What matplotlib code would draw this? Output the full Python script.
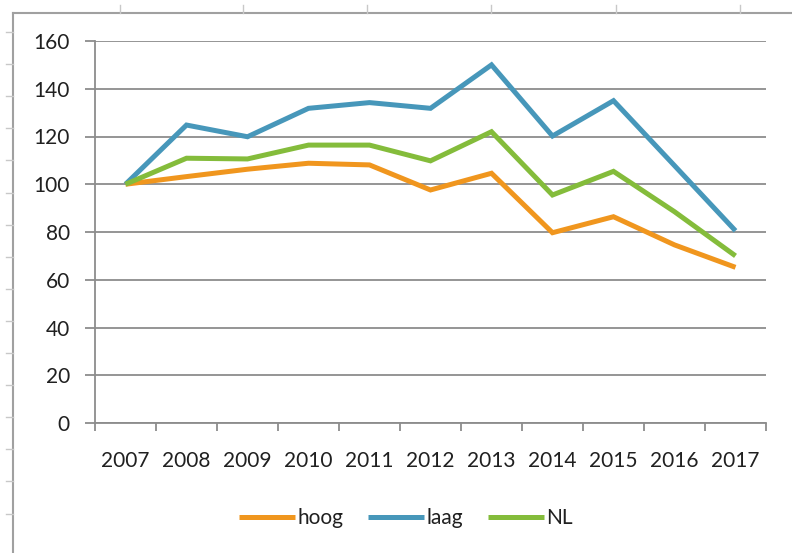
import matplotlib
matplotlib.use("Agg")
import matplotlib.pyplot as plt
from matplotlib.lines import Line2D

years = ["2007", "2008", "2009", "2010", "2011", "2012", "2013", "2014", "2015", "2016", "2017"]
hoog = [100, 103.2, 106.3, 108.8, 108.1, 97.6, 104.6, 79.7, 86.4, 74.6, 65.2]
laag = [100, 124.8, 119.9, 131.8, 134.2, 131.8, 150.0, 120.2, 135.0, 107.8, 80.5]
nl = [100, 110.9, 110.6, 116.4, 116.4, 109.8, 122.0, 95.5, 105.4, 88.5, 70.0]
yticks = [0, 20, 40, 60, 80, 100, 120, 140, 160]

c_hoog = "#F0961E"
c_laag = "#4797BA"
c_nl = "#84BC3B"
grid_c = "#8C8C8C"
txt_c = "#202020"

plt.rcParams['font.family'] = ['Lato', 'DejaVu Sans']

W, H = 792, 553
fig = plt.figure(figsize=(W / 100, H / 100), dpi=100)
fig.patch.set_facecolor("white")

def fx(px):
    return px / W

def fy(py):
    return 1 - py / H

ax = fig.add_axes([fx(95), fy(423), fx(766) - fx(95), fy(41) - fy(423)])

x = list(range(len(years)))
lw = 3.6
ax.plot(x, hoog, color=c_hoog, lw=lw, label="hoog", solid_joinstyle="miter", solid_capstyle="butt")
ax.plot(x, laag, color=c_laag, lw=lw, label="laag", solid_joinstyle="miter", solid_capstyle="butt")
ax.plot(x, nl, color=c_nl, lw=lw, label="NL", solid_joinstyle="miter", solid_capstyle="butt")

ax.set_xlim(-0.5, len(years) - 0.5)
ax.set_ylim(0, 160)
ax.set_yticks(yticks)
ax.set_yticklabels([str(v) for v in yticks])
ax.yaxis.grid(True, color=grid_c, lw=1.3)
ax.set_axisbelow(True)

fs = 15
ax.set_xticks(x)
ax.set_xticklabels(years)
ax.set_xticks([i - 0.5 for i in range(len(years) + 1)], minor=True)
ax.tick_params(axis="x", which="major", length=0, pad=20, labelsize=fs, labelcolor=txt_c)
ax.tick_params(axis="x", which="minor", length=6, width=1.3, color=grid_c, direction="out")
ax.tick_params(axis="y", length=7, width=1.3, color=grid_c, pad=11, labelsize=fs, labelcolor=txt_c)

for s in ["top", "right"]:
    ax.spines[s].set_visible(False)
for s in ["left", "bottom"]:
    ax.spines[s].set_color(grid_c)
    ax.spines[s].set_linewidth(1.3)

leg = fig.legend(loc="center", bbox_to_anchor=(fx(406), fy(518)), ncol=3, frameon=False,
                 fontsize=fs, handlelength=2.7, handletextpad=0.1, columnspacing=1.2)
for t in leg.get_texts():
    t.set_color(txt_c)

# outer chart border (top and left edges)
bc = "#A0A0A0"
fig.add_artist(Line2D([fx(13), fx(13)], [fy(13), 0], transform=fig.transFigure, color=bc, lw=1.5))
fig.add_artist(Line2D([fx(13), 1], [fy(13), fy(13)], transform=fig.transFigure, color=bc, lw=1.5))
for px in [120, 243, 367, 491, 616, 740]:
    fig.add_artist(Line2D([fx(px), fx(px)], [fy(13), fy(5)], transform=fig.transFigure, color="#C8C8C8", lw=1.0))
for k in range(16):
    py = 32 + k * 32.1
    fig.add_artist(Line2D([fx(6), fx(13)], [fy(py), fy(py)], transform=fig.transFigure, color="#C8C8C8", lw=1.0))

fig.savefig("out.png", dpi=100)
